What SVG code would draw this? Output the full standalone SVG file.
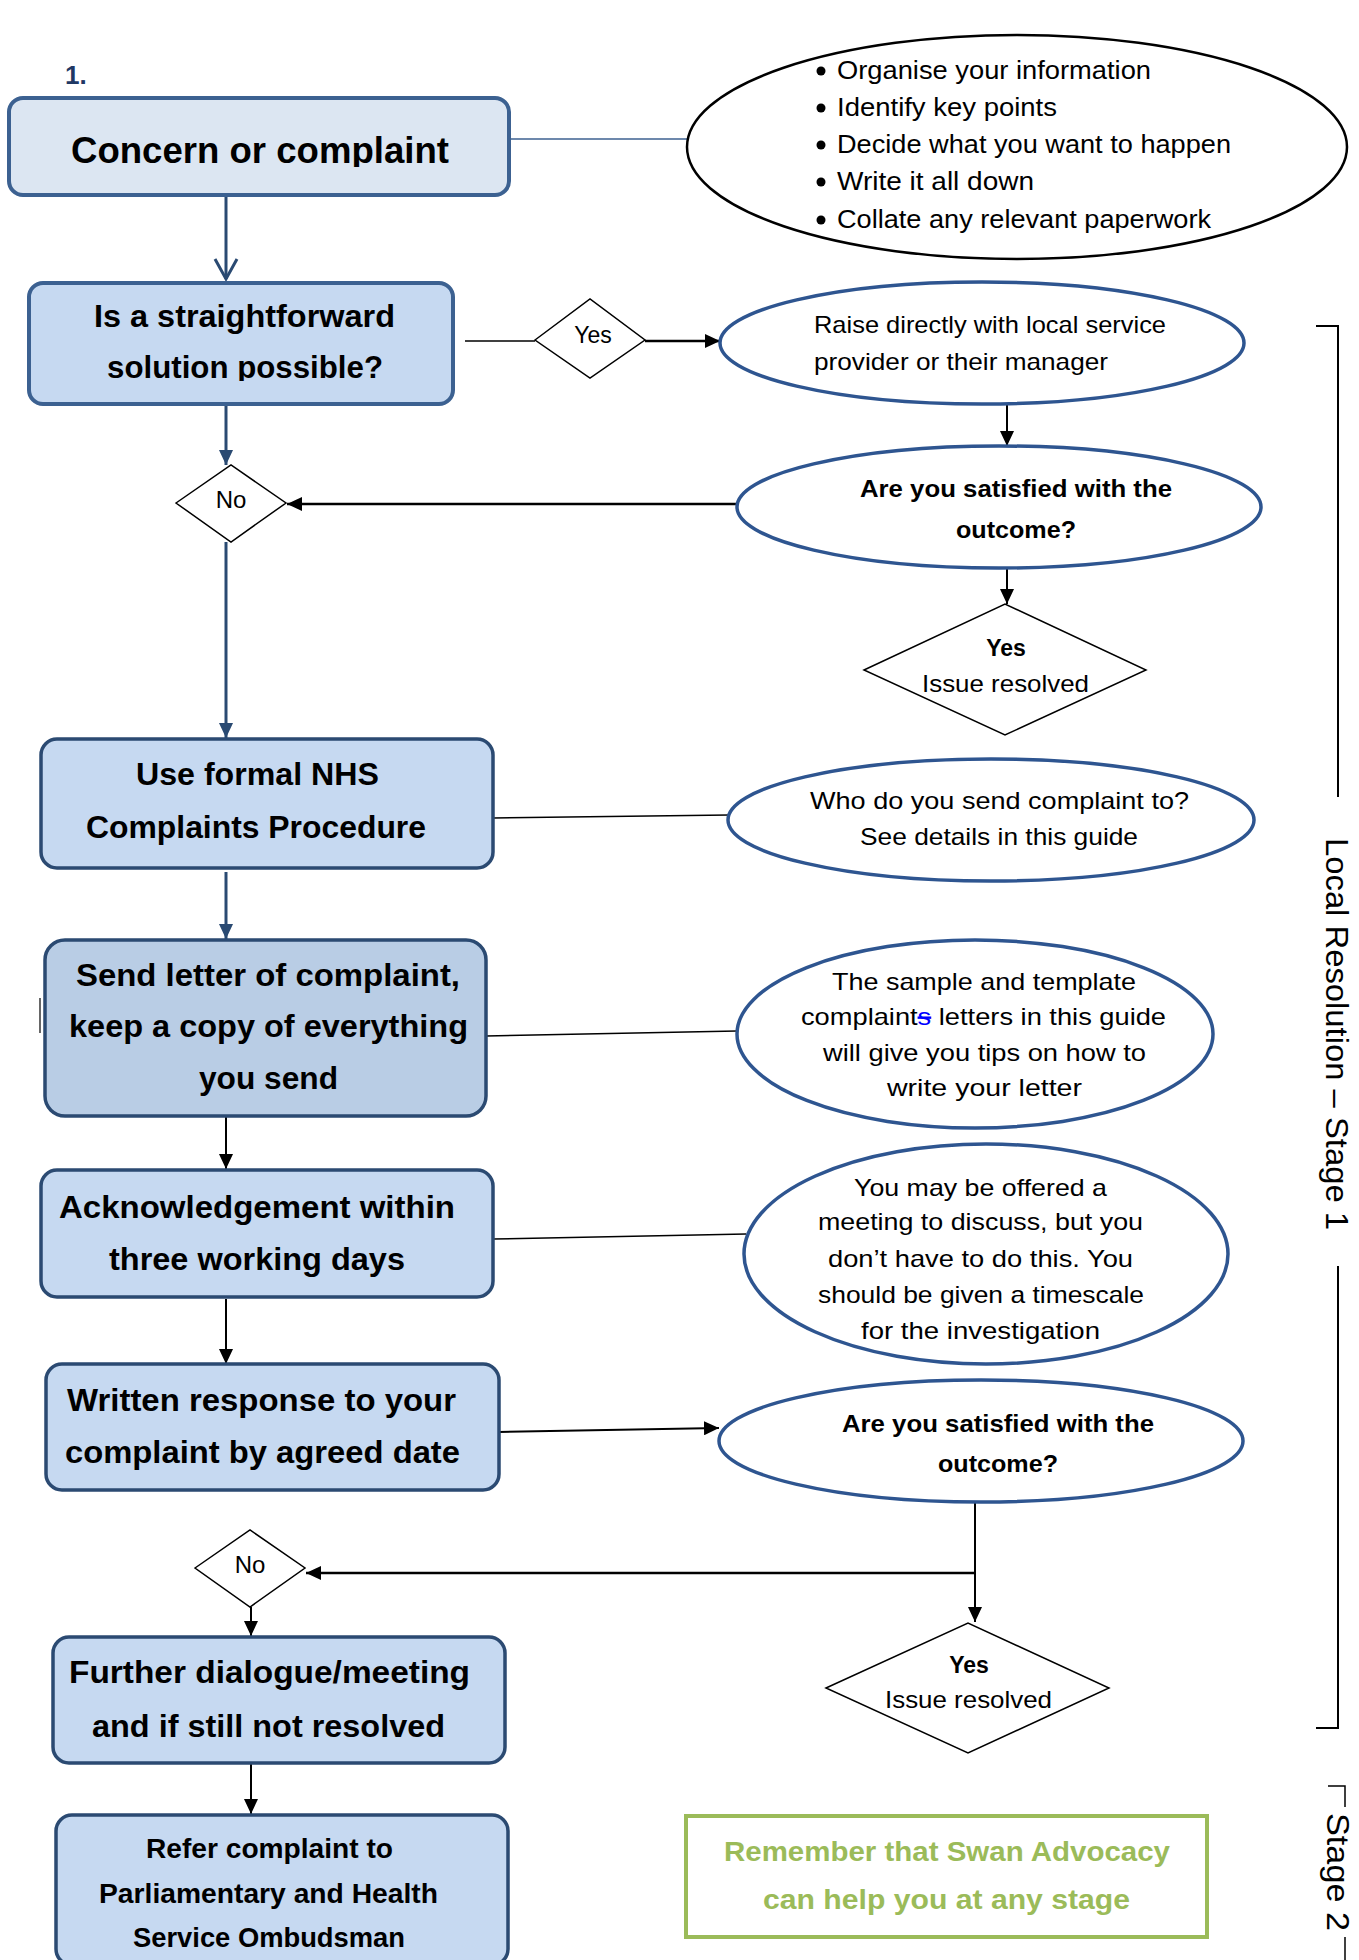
<svg xmlns="http://www.w3.org/2000/svg" width="1359" height="1960" viewBox="0 0 1359 1960">
<style>
text{font-family:"Liberation Sans",Arial,sans-serif;fill:#000}
.bx{font-weight:bold;font-size:31px}
.el{font-size:24px}
.elb{font-size:24px;font-weight:bold}
.bl{font-size:26px}
.box1{fill:#dce6f2;stroke:#3c6191;stroke-width:4}
.box2{fill:#c6d9f1;stroke:#3c6191;stroke-width:4}
.box3{fill:#c6d9f1;stroke:#2b4a72;stroke-width:3.5}
.ell{fill:#fff;stroke:#2e5590;stroke-width:3.5}
.dia{fill:#fff;stroke:#000;stroke-width:1.5}
.cb{stroke:#000;stroke-width:2;fill:none}
.cbt{stroke:#000;stroke-width:1.5;fill:none}
.cd{stroke:#2a4a72;stroke-width:3;fill:none}
.grn{font-weight:bold;font-size:28px;fill:#9bbb59}
.side{font-size:32px}
</style>
<defs>
<marker id="ah" markerUnits="userSpaceOnUse" markerWidth="16" markerHeight="14" refX="15" refY="7" orient="auto"><path d="M0,0 L15,7 L0,14 z" fill="#000"/></marker>
<marker id="ahb" markerUnits="userSpaceOnUse" markerWidth="16" markerHeight="14" refX="15" refY="7" orient="auto"><path d="M0,0 L15,7 L0,14 z" fill="#2a4a72"/></marker>
<clipPath id="clip1"><rect x="0" y="100" width="520" height="67"/></clipPath>
<clipPath id="clip2"><rect x="0" y="285" width="520" height="96"/></clipPath>
</defs>

<text x="65" y="84" style="font-weight:bold;font-size:26px;fill:#1f3864">1.</text>

<g id="connectors">
<line class="cbt" x1="509" y1="139" x2="687" y2="139" style="stroke:#3c6191"/>
<line class="cd" x1="226" y1="196" x2="226" y2="279"/>
<polyline class="cd" points="215,259 226,279 237,259"/>
<line class="cbt" x1="465" y1="341" x2="535" y2="341"/>
<line class="cb" x1="645" y1="341" x2="720" y2="341" style="stroke-width:2.5" marker-end="url(#ah)"/>
<line class="cb" x1="1007" y1="404" x2="1007" y2="446" marker-end="url(#ah)"/>
<line class="cb" x1="737" y1="504" x2="287" y2="504" style="stroke-width:2.5" marker-end="url(#ah)"/>
<line class="cd" x1="226" y1="405" x2="226" y2="465" marker-end="url(#ahb)"/>
<line class="cd" x1="226" y1="542" x2="226" y2="738" marker-end="url(#ahb)"/>
<line class="cb" x1="1007" y1="568" x2="1007" y2="604" marker-end="url(#ah)"/>
<line class="cbt" x1="493" y1="818" x2="729" y2="815"/>
<line class="cd" x1="226" y1="872" x2="226" y2="939" marker-end="url(#ahb)"/>
<line class="cbt" x1="486" y1="1036" x2="737" y2="1031"/>
<line class="cb" x1="226" y1="1116" x2="226" y2="1169" marker-end="url(#ah)"/>
<line class="cbt" x1="493" y1="1239" x2="746" y2="1234"/>
<line class="cb" x1="226" y1="1299" x2="226" y2="1364" marker-end="url(#ah)"/>
<line class="cb" x1="499" y1="1432" x2="719" y2="1428" marker-end="url(#ah)"/>
<line class="cb" x1="975" y1="1502" x2="975" y2="1622" marker-end="url(#ah)"/>
<line class="cb" x1="975" y1="1573" x2="306" y2="1573" style="stroke-width:2.5" marker-end="url(#ah)"/>
<line class="cb" x1="251" y1="1607" x2="251" y2="1636" marker-end="url(#ah)"/>
<line class="cb" x1="251" y1="1763" x2="251" y2="1814" marker-end="url(#ah)"/>
<line x1="40" y1="998" x2="40" y2="1033" stroke="#000" stroke-width="1.2"/>
</g>

<g id="concern">
<rect class="box1" x="9" y="98" width="500" height="97" rx="14"/>
<text class="bx" x="71" y="163" style="font-size:36px" textLength="378" lengthAdjust="spacingAndGlyphs" clip-path="url(#clip1)">Concern or complaint</text>
</g>

<g id="tips">
<ellipse cx="1017" cy="147" rx="330" ry="112" fill="#fff" stroke="#000" stroke-width="2.5"/>
<circle cx="821" cy="71" r="4.5"/><circle cx="821" cy="108" r="4.5"/><circle cx="821" cy="145" r="4.5"/><circle cx="821" cy="182" r="4.5"/><circle cx="821" cy="220" r="4.5"/>
<text class="bl" x="837" y="79" textLength="314" lengthAdjust="spacingAndGlyphs">Organise your information</text>
<text class="bl" x="837" y="116" textLength="220" lengthAdjust="spacingAndGlyphs">Identify key points</text>
<text class="bl" x="837" y="153" textLength="394" lengthAdjust="spacingAndGlyphs">Decide what you want to happen</text>
<text class="bl" x="837" y="190" textLength="197" lengthAdjust="spacingAndGlyphs">Write it all down</text>
<text class="bl" x="837" y="228" textLength="374" lengthAdjust="spacingAndGlyphs">Collate any relevant paperwork</text>
</g>

<g id="straightforward">
<rect class="box2" x="29" y="283" width="424" height="121" rx="14"/>
<text class="bx" x="94" y="327" textLength="301" lengthAdjust="spacingAndGlyphs">Is a straightforward</text>
<text class="bx" x="107" y="378" textLength="276" lengthAdjust="spacingAndGlyphs" clip-path="url(#clip2)">solution possible?</text>
</g>

<g id="yes1">
<polygon class="dia" points="535,340 590,299 645,340 590,378"/>
<text x="593" y="343" style="font-size:23px" text-anchor="middle">Yes</text>
</g>

<g id="raise">
<ellipse class="ell" cx="982" cy="343" rx="262" ry="61"/>
<text class="el" x="814" y="333" textLength="352" lengthAdjust="spacingAndGlyphs">Raise directly with local service</text>
<text class="el" x="814" y="370" textLength="294" lengthAdjust="spacingAndGlyphs">provider or their manager</text>
</g>

<g id="satisfied1">
<ellipse class="ell" cx="999" cy="507" rx="262" ry="61"/>
<text class="elb" x="860" y="497" textLength="312" lengthAdjust="spacingAndGlyphs">Are you satisfied with the</text>
<text class="elb" x="956" y="538" textLength="120" lengthAdjust="spacingAndGlyphs">outcome?</text>
</g>

<g id="no1">
<polygon class="dia" points="176,503 231,465 286,503 231,542"/>
<text x="231" y="508" style="font-size:24px" text-anchor="middle">No</text>
</g>

<g id="resolved1">
<polygon class="dia" points="864,670 1005,604 1146,670 1005,735"/>
<text x="1006" y="656" style="font-size:23px;font-weight:bold" text-anchor="middle">Yes</text>
<text class="el" x="922" y="692" textLength="167" lengthAdjust="spacingAndGlyphs">Issue resolved</text>
</g>

<g id="formal">
<rect class="box3" x="41" y="739" width="452" height="129" rx="16"/>
<text class="bx" x="136" y="785" textLength="243" lengthAdjust="spacingAndGlyphs">Use formal NHS</text>
<text class="bx" x="86" y="838" textLength="340" lengthAdjust="spacingAndGlyphs">Complaints Procedure</text>
</g>

<g id="who">
<ellipse class="ell" cx="991" cy="820" rx="263" ry="61"/>
<text class="el" x="810" y="809" textLength="379" lengthAdjust="spacingAndGlyphs">Who do you send complaint to?</text>
<text class="el" x="860" y="845" textLength="278" lengthAdjust="spacingAndGlyphs">See details in this guide</text>
</g>

<g id="sendletter">
<rect class="box3" x="45" y="940" width="441" height="176" rx="20" style="fill:#b9cde5"/>
<text class="bx" x="76" y="986" textLength="384" lengthAdjust="spacingAndGlyphs">Send letter of complaint,</text>
<text class="bx" x="69" y="1037" textLength="399" lengthAdjust="spacingAndGlyphs">keep a copy of everything</text>
<text class="bx" x="199" y="1089" textLength="139" lengthAdjust="spacingAndGlyphs">you send</text>
</g>

<g id="sample">
<ellipse class="ell" cx="975" cy="1034" rx="238" ry="94"/>
<text class="el" x="832" y="990" textLength="304" lengthAdjust="spacingAndGlyphs">The sample and template</text>
<text class="el" x="801" y="1025" textLength="365" lengthAdjust="spacingAndGlyphs">complaint<tspan style="fill:#0000ff;text-decoration:line-through">s</tspan> letters in this guide</text>
<text class="el" x="823" y="1061" textLength="323" lengthAdjust="spacingAndGlyphs">will give you tips on how to</text>
<text class="el" x="887" y="1096" textLength="195" lengthAdjust="spacingAndGlyphs">write your letter</text>
</g>

<g id="ack">
<rect class="box3" x="41" y="1170" width="452" height="127" rx="16"/>
<text class="bx" x="59" y="1218" textLength="396" lengthAdjust="spacingAndGlyphs">Acknowledgement within</text>
<text class="bx" x="109" y="1270" textLength="296" lengthAdjust="spacingAndGlyphs">three working days</text>
</g>

<g id="meeting">
<ellipse class="ell" cx="986" cy="1254" rx="242" ry="110"/>
<text class="el" x="854" y="1196" textLength="253" lengthAdjust="spacingAndGlyphs">You may be offered a</text>
<text class="el" x="818" y="1230" textLength="325" lengthAdjust="spacingAndGlyphs">meeting to discuss, but you</text>
<text class="el" x="828" y="1267" textLength="305" lengthAdjust="spacingAndGlyphs">don’t have to do this. You</text>
<text class="el" x="818" y="1303" textLength="326" lengthAdjust="spacingAndGlyphs">should be given a timescale</text>
<text class="el" x="861" y="1339" textLength="239" lengthAdjust="spacingAndGlyphs">for the investigation</text>
</g>

<g id="written">
<rect class="box3" x="46" y="1364" width="453" height="126" rx="16"/>
<text class="bx" x="67" y="1411" textLength="389" lengthAdjust="spacingAndGlyphs">Written response to your</text>
<text class="bx" x="65" y="1463" textLength="395" lengthAdjust="spacingAndGlyphs">complaint by agreed date</text>
</g>

<g id="satisfied2">
<ellipse class="ell" cx="981" cy="1441" rx="262" ry="61"/>
<text class="elb" x="842" y="1432" textLength="312" lengthAdjust="spacingAndGlyphs">Are you satisfied with the</text>
<text class="elb" x="938" y="1472" textLength="120" lengthAdjust="spacingAndGlyphs">outcome?</text>
</g>

<g id="no2">
<polygon class="dia" points="195,1568 250,1530 305,1568 250,1607"/>
<text x="250" y="1573" style="font-size:24px" text-anchor="middle">No</text>
</g>

<g id="resolved2">
<polygon class="dia" points="826,1688 968,1623 1109,1688 968,1753"/>
<text x="969" y="1673" style="font-size:23px;font-weight:bold" text-anchor="middle">Yes</text>
<text class="el" x="885" y="1708" textLength="167" lengthAdjust="spacingAndGlyphs">Issue resolved</text>
</g>

<g id="further">
<rect class="box3" x="53" y="1637" width="452" height="126" rx="16"/>
<text class="bx" x="69" y="1683" textLength="401" lengthAdjust="spacingAndGlyphs">Further dialogue/meeting</text>
<text class="bx" x="92" y="1737" textLength="353" lengthAdjust="spacingAndGlyphs">and if still not resolved</text>
</g>

<g id="refer">
<rect class="box3" x="56" y="1815" width="452" height="150" rx="16"/>
<text class="bx" x="146" y="1858" style="font-size:27px" textLength="247" lengthAdjust="spacingAndGlyphs">Refer complaint to</text>
<text class="bx" x="99" y="1903" style="font-size:27px" textLength="339" lengthAdjust="spacingAndGlyphs">Parliamentary and Health</text>
<text class="bx" x="133" y="1947" style="font-size:27px" textLength="272" lengthAdjust="spacingAndGlyphs">Service Ombudsman</text>
</g>

<g id="swan">
<rect x="686" y="1816" width="521" height="121" fill="#fff" stroke="#9bbb59" stroke-width="4"/>
<text class="grn" x="724" y="1861" textLength="446" lengthAdjust="spacingAndGlyphs">Remember that Swan Advocacy</text>
<text class="grn" x="763" y="1909" textLength="367" lengthAdjust="spacingAndGlyphs">can help you at any stage</text>
</g>

<g id="stages">
<path d="M1316,326 H1338 V797" fill="none" stroke="#000" stroke-width="2"/>
<path d="M1338,1266 V1728 H1316" fill="none" stroke="#000" stroke-width="2"/>
<path d="M1328,1786 H1345 V1807" fill="none" stroke="#000" stroke-width="1.5"/>
<line x1="1345" y1="1937" x2="1345" y2="1960" stroke="#000" stroke-width="1.5"/>
<text class="side" transform="translate(1326,838) rotate(90)" textLength="392" lengthAdjust="spacingAndGlyphs">Local Resolution – Stage 1</text>
<text class="side" transform="translate(1327,1813) rotate(90)" textLength="118" lengthAdjust="spacingAndGlyphs">Stage 2</text>
</g>
</svg>
